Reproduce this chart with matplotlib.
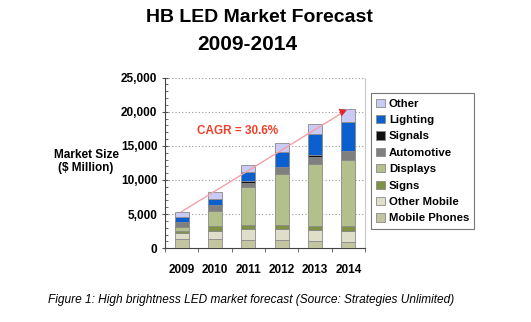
import matplotlib.pyplot as plt
import numpy as np
from matplotlib.ticker import FuncFormatter, MultipleLocator

plt.rcParams['font.family'] = ['Liberation Sans', 'DejaVu Sans']

years = ['2009', '2010', '2011', '2012', '2013', '2014']
# segment values ($ Million), bottom to top
mobile_phones = [1370, 1320, 1220, 1220, 1020, 930]
other_mobile = [830, 1270, 1560, 1560, 1620, 1560]
signs = [390, 680, 640, 640, 630, 780]
displays = [580, 2240, 5510, 7460, 9030, 9660]
automotive = [680, 690, 680, 830, 1120, 1220]
signals = [50, 100, 200, 190, 200, 150]
lighting = [640, 870, 1320, 2250, 3120, 4240]
other = [830, 1030, 1020, 1320, 1410, 1850]

series = [
    ('Mobile Phones', mobile_phones, '#c2c5a0'),
    ('Other Mobile', other_mobile, '#dfdec8'),
    ('Signs', signs, '#7f9142'),
    ('Displays', displays, '#b4c08c'),
    ('Automotive', automotive, '#7f7f7f'),
    ('Signals', signals, '#111111'),
    ('Lighting', lighting, '#0b5fcf'),
    ('Other', other, '#cacaf4'),
]

fig = plt.figure(figsize=(5.31, 3.22), dpi=100)
ax = fig.add_axes([0.3107, 0.229, 0.3767, 0.530])

x = np.arange(len(years))
bottom = np.zeros(len(years))
handles = []
for name, vals, color in series:
    b = ax.bar(x, vals, 0.42, bottom=bottom, color=color, edgecolor='#8a8a8a',
               linewidth=0.6, label=name, zorder=3)
    handles.append(b)
    bottom += np.array(vals)
totals = bottom

ax.set_xlim(-0.5, 5.5)
ax.set_ylim(0, 25000)
ax.yaxis.set_major_locator(MultipleLocator(5000))
ax.yaxis.set_minor_locator(MultipleLocator(1000))
ax.yaxis.set_major_formatter(FuncFormatter(lambda v, p: f'{int(v):,}'))
ax.set_xticks(x)
ax.set_xticklabels(years, fontweight='bold', fontsize=8.5)
for lab in ax.get_yticklabels():
    lab.set_fontweight('bold')
    lab.set_fontsize(8.5)
ax.set_xticks(np.arange(-0.5, 6, 1), minor=True)
ax.tick_params(axis='x', which='major', length=0, pad=11)
ax.tick_params(axis='x', which='minor', length=3, direction='out', color='#555555')
ax.tick_params(axis='y', which='major', length=5, direction='inout', color='#555555', pad=3)
ax.tick_params(axis='y', which='minor', length=2.5, direction='in', color='#555555')

for yv in range(5000, 25001, 5000):
    ax.axhline(yv, color='#999999', linestyle=(0, (1, 2)), linewidth=0.8, zorder=1)

ax.spines['top'].set_visible(False)
ax.spines['right'].set_color('#c8c8c8')
ax.spines['left'].set_color('#444444')
ax.spines['bottom'].set_color('#444444')

# CAGR trend arrow
x0, y0 = x[0], totals[0]
x1, y1 = x[-1] - 0.1, totals[-1] - 300
ax.plot([x0, x1], [y0, y1], color='#f3a0a8', linewidth=1.0, zorder=4)
ax.annotate('', xy=(x1 + 0.05, y1 + 120), xytext=(x1 - 0.2, y1 - 300),
            arrowprops=dict(arrowstyle='-|>,head_length=0.5,head_width=0.3',
                            color='#e8202a', lw=0.01, shrinkA=0, shrinkB=0), zorder=5)
ax.text(1.68, 17150, 'CAGR = 30.6%', color='#f0402a', fontweight='bold',
        fontsize=8.5, ha='center', va='center', zorder=5)

leg = fig.legend(handles[::-1], [s[0] for s in series][::-1],
                 loc='upper left', bbox_to_anchor=(0.699, 0.710),
                 frameon=True, fancybox=False, edgecolor='#555555',
                 prop={'weight': 'bold', 'size': 8.2}, handlelength=0.75,
                 handleheight=0.75, handletextpad=0.35, labelspacing=0.55,
                 borderpad=0.45, borderaxespad=0)
leg.get_frame().set_linewidth(0.8)

fig.text(0.488, 0.946, 'HB LED Market Forecast', ha='center', va='center',
         fontsize=14, fontweight='bold')
fig.text(0.466, 0.862, '2009-2014', ha='center', va='center',
         fontsize=15, fontweight='bold')
fig.text(0.162, 0.519, 'Market Size', ha='center', va='center',
         fontsize=8.5, fontweight='bold')
fig.text(0.162, 0.478, '($ Million)', ha='center', va='center',
         fontsize=8.5, fontweight='bold')
fig.text(0.09, 0.068, 'Figure 1: High brightness LED market forecast (Source: Strategies Unlimited)',
         ha='left', va='center', fontsize=8.6, fontstyle='italic')

fig.savefig('out.png', dpi=100)
